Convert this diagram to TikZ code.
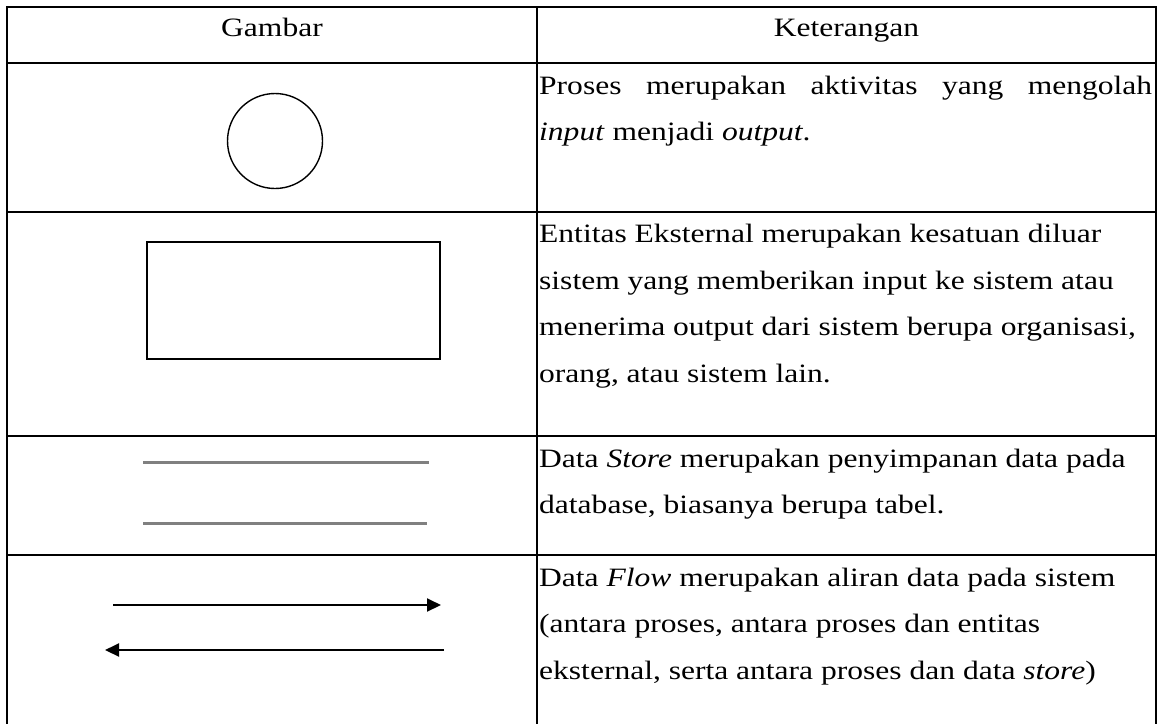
\documentclass[tikz,border=0pt]{standalone}
\usepackage{fontspec}
\setmainfont[FakeStretch=1.19]{Liberation Serif}
\usetikzlibrary{arrows.meta}

\newcommand{\ketcell}[1]{\parbox[t]{650pt}{\raggedright #1}}

\tikzset{
  garis/.style={line width=2pt},
  teks/.style={anchor=base west, inner sep=0pt, font=\fontsize{26.5}{46.5}\selectfont},
  judul/.style={anchor=base, inner sep=0pt, font=\fontsize{26.5}{30}\selectfont},
  simpan/.style={line width=2.6pt, draw=black!50},
  alir/.style={line width=2pt, -{Triangle[length=14pt,width=13pt]}}
}

\begin{document}
\begin{tikzpicture}[x=1pt,y=-1pt]
\useasboundingbox (0,0) rectangle (1164,724);

% tabel
\foreach \y in {7,63,212,436,555}{
	\draw[garis] (6,\y)--(1157,\y);
}
\foreach \x in {7,537,1156}{
	\draw[garis] (\x,6)--(\x,724);
}

% kepala tabel
\node[judul] (gambar) at (272,36) {Gambar};
\node[judul] (keterangan) at (846.5,36) {Keterangan};

% simbol
\node[draw, circle, line width=1.4pt, minimum size=95pt, inner sep=0pt] (proses) at (275,141) {};
\node[draw, rectangle, line width=2.2pt, minimum width=293pt, minimum height=117pt, inner sep=0pt] (entitas) at (293.5,300.5) {};

\coordinate (s1a) at (143,462.5);
\coordinate (s1b) at (429,462.5);
\coordinate (s2a) at (143,523.5);
\coordinate (s2b) at (427,523.5);
\draw[simpan] (s1a)--(s1b);
\draw[simpan] (s2a)--(s2b);

\coordinate (f1a) at (113,605);
\coordinate (f1b) at (441,605);
\coordinate (f2a) at (444,650);
\coordinate (f2b) at (105,650);
\draw[alir] (f1a)--(f1b);
\draw[alir] (f2a)--(f2b);

% keterangan
\node[teks] (kproses) at (539,94) {\ketcell{\makebox[613pt][s]{Proses merupakan aktivitas yang mengolah}\\
\textit{input} menjadi \textit{output}.}};
\node[teks] (kentitas) at (539,242.5) {\ketcell{Entitas Eksternal merupakan kesatuan diluar\\
sistem yang memberikan input ke sistem atau\\
menerima output dari sistem berupa organisasi,\\
orang, atau sistem lain.}};
\node[teks] (kstore) at (539,467) {\ketcell{Data \textit{Store} merupakan penyimpanan data pada\\
database, biasanya berupa tabel.}};
\node[teks] (kflow) at (539,586) {\ketcell{Data \textit{Flow} merupakan aliran data pada sistem\\
(antara proses, antara proses dan entitas\\
eksternal, serta antara proses dan data \textit{store})}};

\end{tikzpicture}
\end{document}
